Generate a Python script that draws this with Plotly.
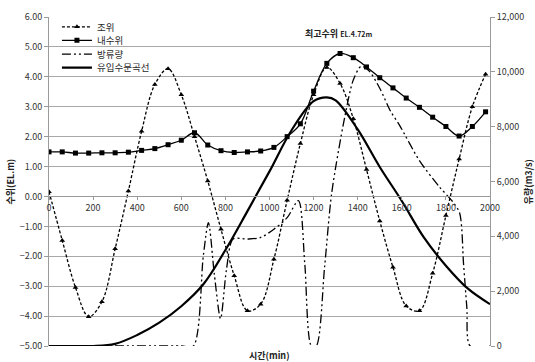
import plotly.graph_objects as go

# ---- data ----
time_min = [0, 60, 120, 180, 240, 300, 360, 420, 480, 540, 600, 660, 720, 780,
            840, 900, 960, 1020, 1080, 1140, 1200, 1260, 1320, 1380, 1440, 1500,
            1560, 1620, 1680, 1740, 1800, 1860, 1920, 1980]

tide = [0.16, -1.47, -3.04, -4.02, -3.52, -1.75, 0.18, 2.18, 3.74, 4.27, 3.40, 2.00,
        0.52, -1.10, -2.65, -3.82, -3.60, -2.10, -0.13, 1.77, 3.40, 4.31, 3.78, 2.60,
        0.90, -0.82, -2.37, -3.66, -3.82, -2.57, -0.64, 1.25, 3.00, 4.09]

inner = [1.49, 1.49, 1.45, 1.45, 1.46, 1.46, 1.48, 1.54, 1.60, 1.73, 1.88, 2.13,
         1.72, 1.53, 1.47, 1.49, 1.52, 1.64, 2.00, 2.43, 3.52, 4.45, 4.78, 4.64,
         4.33, 3.97, 3.63, 3.29, 2.98, 2.65, 2.34, 2.02, 2.34, 2.83]

discharge_t = [0, 300, 600, 655, 700, 723, 750, 778, 805, 835, 900, 960, 1020,
               1080, 1131, 1160, 1190, 1212, 1250, 1282, 1340, 1380, 1415, 1450,
               1500, 1550, 1590, 1680, 1770, 1830, 1862, 1880, 1895, 1910, 2000]
discharge = [0, 0, 0, 0, 3300, 4500, 2600, 1000, 2800, 3900, 3900, 3960, 4260,
             4680, 5300, 3000, 0, 0, 2900, 5571, 8300, 9700, 10200, 10050,
             9400, 8550, 8050, 6760, 5810, 5270, 4860, 3000, 1400, 0, 0]

inflow_t = [0, 100, 200, 300, 400, 500, 600, 700, 800, 900, 1000, 1100, 1200,
            1260, 1300, 1400, 1500, 1600, 1700, 1800, 1900, 2000]
inflow = [0, 0, 0, 80, 400, 850, 1450, 2250, 3500, 4920, 6370, 7870, 8930,
          9070, 8960, 7900, 6530, 5290, 3960, 2930, 2090, 1525]

x_ticks = list(range(0, 2001, 200))
left_ticks = [-5, -4, -3, -2, -1, 0, 1, 2, 3, 4, 5, 6]
right_ticks = [0, 2000, 4000, 6000, 8000, 10000, 12000]

FONT = "Noto Sans CJK KR, sans-serif"
GRID = "#a8a8a8"
AXIS = "#9a9a9a"

fig = go.Figure()

fig.add_trace(go.Scatter(
    x=time_min, y=tide, name="조위", mode="lines+markers", legend="legend",
    line=dict(color="black", width=1.3, dash="3px,2px", shape="spline", smoothing=1.0),
    marker=dict(symbol="triangle-up", size=5, color="black"),
    yaxis="y"))

fig.add_trace(go.Scatter(
    x=time_min, y=inner, name="내수위", mode="lines+markers", legend="legend2",
    line=dict(color="black", width=1.3, shape="spline", smoothing=1.0),
    marker=dict(symbol="square", size=5, color="black"),
    yaxis="y"))

fig.add_trace(go.Scatter(
    x=discharge_t, y=discharge, name="방류량", mode="lines", legend="legend3",
    line=dict(color="black", width=1.3, dash="9px,3px,2px,3px,2px,3px",
              shape="spline", smoothing=0.8),
    yaxis="y2"))

fig.add_trace(go.Scatter(
    x=inflow_t, y=inflow, name="유입수문곡선", mode="lines", legend="legend4",
    line=dict(color="black", width=2.2, shape="spline", smoothing=1.0),
    yaxis="y2"))


def leg(ypos):
    return dict(x=0.018, y=ypos, xanchor="left", yanchor="middle",
                bgcolor="rgba(255,255,255,0)", font=dict(size=9.5, color="#2a2a2a"),
                tracegroupgap=0, itemwidth=30)


fig.update_layout(
    width=535, height=362,
    margin=dict(l=49, r=45, t=10, b=16),
    paper_bgcolor="white", plot_bgcolor="white",
    font=dict(family=FONT, size=9, color="#333333"),
    showlegend=True,
    legend=leg(0.970), legend2=leg(0.929), legend3=leg(0.887), legend4=leg(0.846),
    xaxis=dict(range=[0, 2000], tickvals=x_ticks, ticktext=[str(v) for v in x_ticks],
               anchor="free", position=5 / 11, showgrid=False, zeroline=False,
               showline=True, linecolor=AXIS, linewidth=1,
               ticks="outside", ticklen=3, tickcolor=AXIS,
               tickfont=dict(size=9, color="#333333")),
    yaxis=dict(range=[-5, 6], tickvals=left_ticks, tickformat=".2f",
               showgrid=True, gridcolor=GRID, gridwidth=1, zeroline=False,
               showline=True, linecolor=AXIS, ticks="outside", ticklen=4,
               tickcolor=AXIS, tickfont=dict(size=9, color="#333333")),
    yaxis2=dict(range=[0, 12000], tickvals=right_ticks, tickformat=",",
                overlaying="y", side="right", anchor="x", showgrid=False,
                zeroline=False, showline=True, linecolor=AXIS, ticks="outside",
                ticklen=4, tickcolor=AXIS, tickfont=dict(size=9, color="#333333")),
)

fig.add_annotation(x=1313, y=5.45, xref="x", yref="y", xanchor="center", yanchor="middle",
                   text="<b>최고수위</b> <b><span style='font-size:7px'>EL.4.72m</span></b>",
                   showarrow=False, font=dict(size=9, color="#222222"))
fig.add_annotation(x=0.5, y=-0.03, xref="paper", yref="paper", xanchor="center",
                   text="<b>시간(min)</b>", showarrow=False, yanchor="middle",
                   font=dict(size=9, color="#222222"))
fig.add_annotation(x=-0.0862, y=0.5, xref="paper", yref="paper", xanchor="center",
                   yanchor="middle", text="<b>수위(EL.m)</b>", showarrow=False,
                   textangle=-90, font=dict(size=9, color="#222222"))
fig.add_annotation(x=1.088, y=0.5, xref="paper", yref="paper", xanchor="center",
                   yanchor="middle", text="<b>유량(m3/s)</b>", showarrow=False,
                   textangle=-90, font=dict(size=9, color="#222222"))

fig.write_html("out.html", config={"displayModeBar": False},
               post_script="document.body.style.margin='0';document.body.style.overflow='hidden';")
